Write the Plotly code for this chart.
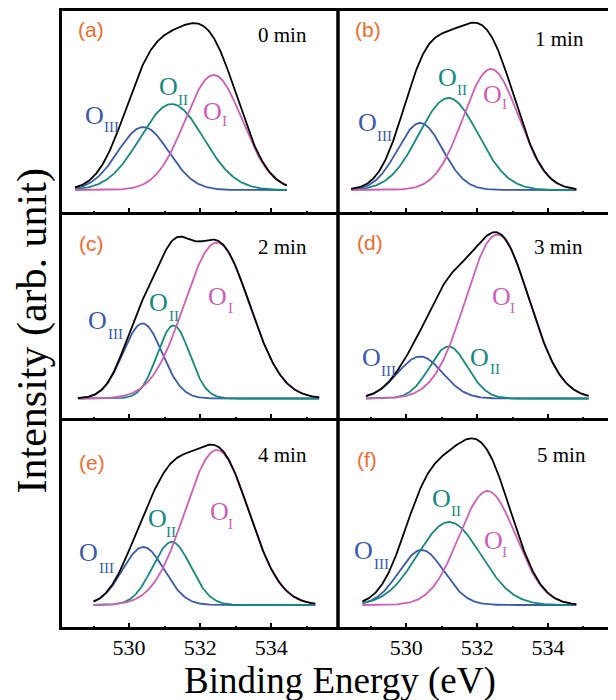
import numpy as np
import plotly.graph_objects as go

# ---------------- data ----------------
panel_tags = ["(a)", "(b)", "(c)", "(d)", "(e)", "(f)"]
etch_times = ["0 min", "1 min", "2 min", "3 min", "4 min", "5 min"]

# fitted energy window of each spectrum (eV)
e_start = [528.48, 528.44, 528.56, 528.86, 529.00, 528.76]
e_end = [534.44, 534.80, 535.35, 535.15, 535.24, 534.80]

# O_I component: centre (eV), height (arb.), FWHM (eV)
oI_center = [532.38, 532.39, 532.47, 532.57, 532.47, 532.29]
oI_height = [115, 121, 156, 164, 155, 114]
oI_fwhm = [1.90, 1.83, 2.16, 2.11, 2.11, 1.88]

# O_II component
oII_center = [531.20, 531.19, 531.25, 531.19, 531.20, 531.21]
oII_height = [86, 92, 73, 52, 63, 83]
oII_fwhm = [2.10, 1.97, 1.08, 1.27, 1.27, 2.10]

# O_III component
oIII_center = [530.40, 530.39, 530.38, 530.39, 530.40, 530.43]
oIII_height = [63, 67, 75, 42, 58, 55]
oIII_fwhm = [1.69, 1.50, 1.30, 1.50, 1.38, 1.50]

x_ticks = [530, 532, 534]
x_tick_labels = ["530", "532", "534"]

# ---------------- style ----------------
OFF = 8                      # page body margin of the browser
W, H = 616 - OFF, 700 - OFF  # figure size
C_I = "#cf5fb4"
C_II = "#16897f"
C_III = "#3b5aab"
C_TAG = "#f26b2c"
SERIF = "Liberation Serif"
SANS = "Liberation Sans"

# panel edges in screen pixels
col_x = [(60.5, 338.0), (338.0, 614.5)]
row_y = [(9.5, 213.5), (213.5, 419.5), (419.5, 628.5)]
row_yrange = [(-23.5, 180.5), (-21.0, 185.0), (-23.5, 185.5)]


def px(x):
    return (x - OFF) / W


def py(y):
    return min(1.0, 1 - (y - OFF) / H)


def gauss(x, c, h, fwhm):
    s = fwhm / 2.3548
    return h * np.exp(-((x - c) ** 2) / (2 * s * s))


fig = go.Figure()
layout = dict(
    width=W, height=H, margin=dict(l=0, r=0, t=0, b=0),
    paper_bgcolor="white", plot_bgcolor="white", showlegend=False,
    font=dict(family=SERIF),
)
shapes = []
annotations = []


def ann(text, x, y, font, **kw):
    d = dict(text=text, x=px(x), y=py(y), xref="paper", yref="paper",
             showarrow=False, xanchor="center", yanchor="middle", font=font)
    d.update(kw)
    annotations.append(d)


# label positions (screen pixels) for O labels and subscripts, per panel
lab_pos = [
    [(95, 115), (111.7, 127.5), (168.8, 86), (183.3, 100), (212.5, 111.7), (224.7, 121.3)],
    [(367.2, 122.5), (384, 135.8), (447.2, 77.2), (462, 90.3), (492.5, 94.7), (504, 104)],
    [(97.5, 320), (115, 334), (158.8, 302.7), (173.8, 315.5), (217.5, 296.7), (230.8, 308.3)],
    [(371.3, 357.5), (388.8, 371.2), (479.5, 357.5), (494.5, 369.2), (501.5, 296.7), (512.5, 307.5)],
    [(88.8, 552.5), (106.7, 567.5), (157, 518.3), (171.3, 531.7), (219.2, 511.7), (230.8, 523.7)],
    [(363.8, 550), (381.7, 564), (441.3, 498.3), (456.3, 511.3), (493, 540), (504, 552)],
]
tag_pos = [(90.5, 30), (368, 30), (91, 243), (370, 242), (92, 462), (367, 460)]
time_pos = [(282.5, 35), (559, 39), (282.5, 247), (558.5, 247), (282, 455), (561, 455)]

for i in range(6):
    r, c = divmod(i, 2)
    n = i + 1
    xa = "x" if n == 1 else f"x{n}"
    ya = "y" if n == 1 else f"y{n}"
    x = np.linspace(e_start[i], e_end[i], 300)
    g1 = gauss(x, oI_center[i], oI_height[i], oI_fwhm[i])
    g2 = gauss(x, oII_center[i], oII_height[i], oII_fwhm[i])
    g3 = gauss(x, oIII_center[i], oIII_height[i], oIII_fwhm[i])
    tot = g1 + g2 + g3
    for yy, col in [(g3, C_III), (g2, C_II), (g1, C_I), (tot, "black")]:
        fig.add_trace(go.Scatter(x=x, y=yy, mode="lines", xaxis=xa, yaxis=ya,
                                 line=dict(color=col, width=1.8), hoverinfo="skip"))

    x0, x1 = col_x[c]
    y0, y1 = row_y[r]
    layout["xaxis" if n == 1 else f"xaxis{n}"] = dict(
        domain=[px(x0), px(x1)], anchor=ya, range=[528.07, 535.88],
        showgrid=False, zeroline=False, showline=False,
        tickmode="array", tickvals=x_ticks, ticktext=x_tick_labels,
        ticks="inside", ticklen=6, tickwidth=2, tickcolor="black",
        minor=dict(tickmode="array", tickvals=[529, 531, 533, 535], ticks="inside",
                   ticklen=3, tickwidth=1.5, tickcolor="black"),
        showticklabels=(r == 2), ticklabelstandoff=3,
        tickfont=dict(family=SERIF, size=22, color="black"),
    )
    layout["yaxis" if n == 1 else f"yaxis{n}"] = dict(
        domain=[py(y1), py(y0)], anchor=xa, range=list(row_yrange[r]),
        showgrid=False, zeroline=False, showline=False, showticklabels=False, ticks="",
    )
    shapes.append(dict(type="rect", xref="paper", yref="paper",
                       x0=px(x0), x1=px(x1), y0=py(y1), y1=py(y0),
                       line=dict(color="black", width=3), layer="above"))

    ann(panel_tags[i], tag_pos[i][0], tag_pos[i][1], dict(family=SANS, size=21, color=C_TAG))
    ann(etch_times[i], time_pos[i][0], time_pos[i][1], dict(family=SERIF, size=21, color="black"))
    lp = lab_pos[i]
    for (opos, spos, sub, col) in [(lp[0], lp[1], "III", C_III), (lp[2], lp[3], "II", C_II),
                                   (lp[4], lp[5], "I", C_I)]:
        ann("O", opos[0], opos[1], dict(family=SERIF, size=26, color=col))
        ann(sub, spos[0], spos[1], dict(family=SERIF, size=15, color=col))

ann("Binding Energy (eV)", 340, 681, dict(family=SERIF, size=37, color="black"))
ann("Intensity (arb. unit)", 32, 331.5, dict(family=SERIF, size=42, color="black"), textangle=-90)

layout["shapes"] = shapes
layout["annotations"] = annotations
fig.update_layout(**layout)
fig.write_html("out.html")
